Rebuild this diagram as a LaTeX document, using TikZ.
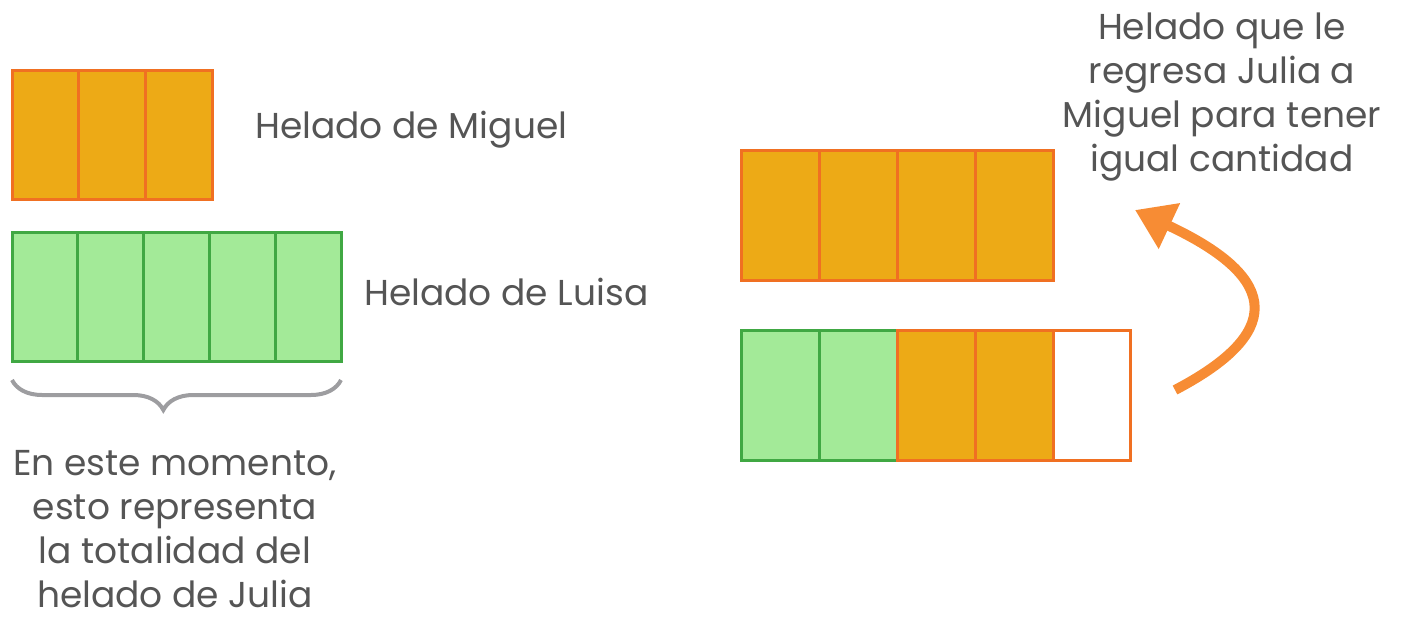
\documentclass[tikz,border=0pt]{standalone}
\usepackage{fontspec}
\setmainfont{Poppins}
\usetikzlibrary{arrows.meta, decorations.pathreplacing}
\definecolor{helnaranja}{RGB}{237,170,22}
\definecolor{bordenaranja}{RGB}{240,112,34}
\definecolor{helverde}{RGB}{163,234,152}
\definecolor{bordeverde}{RGB}{64,168,67}
\definecolor{flecha}{RGB}{247,140,52}
\definecolor{texto}{RGB}{85,85,85}
\definecolor{llave}{RGB}{157,157,160}

\begin{document}
\begin{tikzpicture}[x=1pt, y=-1pt,
    naranja/.style={fill=helnaranja, draw=bordenaranja, line width=3pt},
    verde/.style={fill=helverde, draw=bordeverde, line width=3pt},
    vacio/.style={fill=white, draw=bordenaranja, line width=3pt},
    etiqueta/.style={text=texto, font=\fontsize{36}{44}\selectfont, inner sep=0pt}]
  \useasboundingbox (0,0) rectangle (1404,618);
  % helado de Miguel y de Luisa
  \foreach \i in {0,1,2} \draw[naranja] (12+66.7*\i,70) rectangle ++(66.7,129);
  \foreach \i in {0,...,4} \draw[verde] (12+65.8*\i,232) rectangle ++(65.8,129);
  \node[etiqueta, anchor=west] (miguel) at (255,130) {Helado de Miguel};
  \node[etiqueta, anchor=west] (luisa) at (364,292) {Helado de Luisa};
  % llave
  \coordinate (llaveA) at (341,380);
  \coordinate (llaveB) at (12,380);
  \draw[llave, line width=4pt, decorate,
    decoration={brace, amplitude=30pt, aspect=0.54}] (llaveA) -- (llaveB);
  \node[etiqueta, align=center] (julia) at (175,529)
    {En este momento,\\esto representa\\la totalidad del\\helado de Julia};
  % reparto
  \foreach \i in {0,...,3} \draw[naranja] (741+78*\i,150) rectangle ++(78,130);
  \foreach \i in {0,1} \draw[verde] (741+78*\i,330) rectangle ++(78,130);
  \foreach \i in {2,3} \draw[naranja] (741+78*\i,330) rectangle ++(78,130);
  \draw[vacio] (741+78*4,330) rectangle ++(77,130);
  \node[etiqueta, align=center] (regresa) at (1222,97)
    {Helado que le\\regresa Julia a\\Miguel para tener\\igual cantidad};
  % flecha
  \coordinate (inicio) at (1175,390);
  \coordinate (fin) at (1135,210);
  \draw[flecha, line width=10pt, -{Triangle[length=38pt, width=48pt]}]
    (inicio) .. controls (1280,335) and (1285,280) .. (fin);
\end{tikzpicture}
\end{document}
